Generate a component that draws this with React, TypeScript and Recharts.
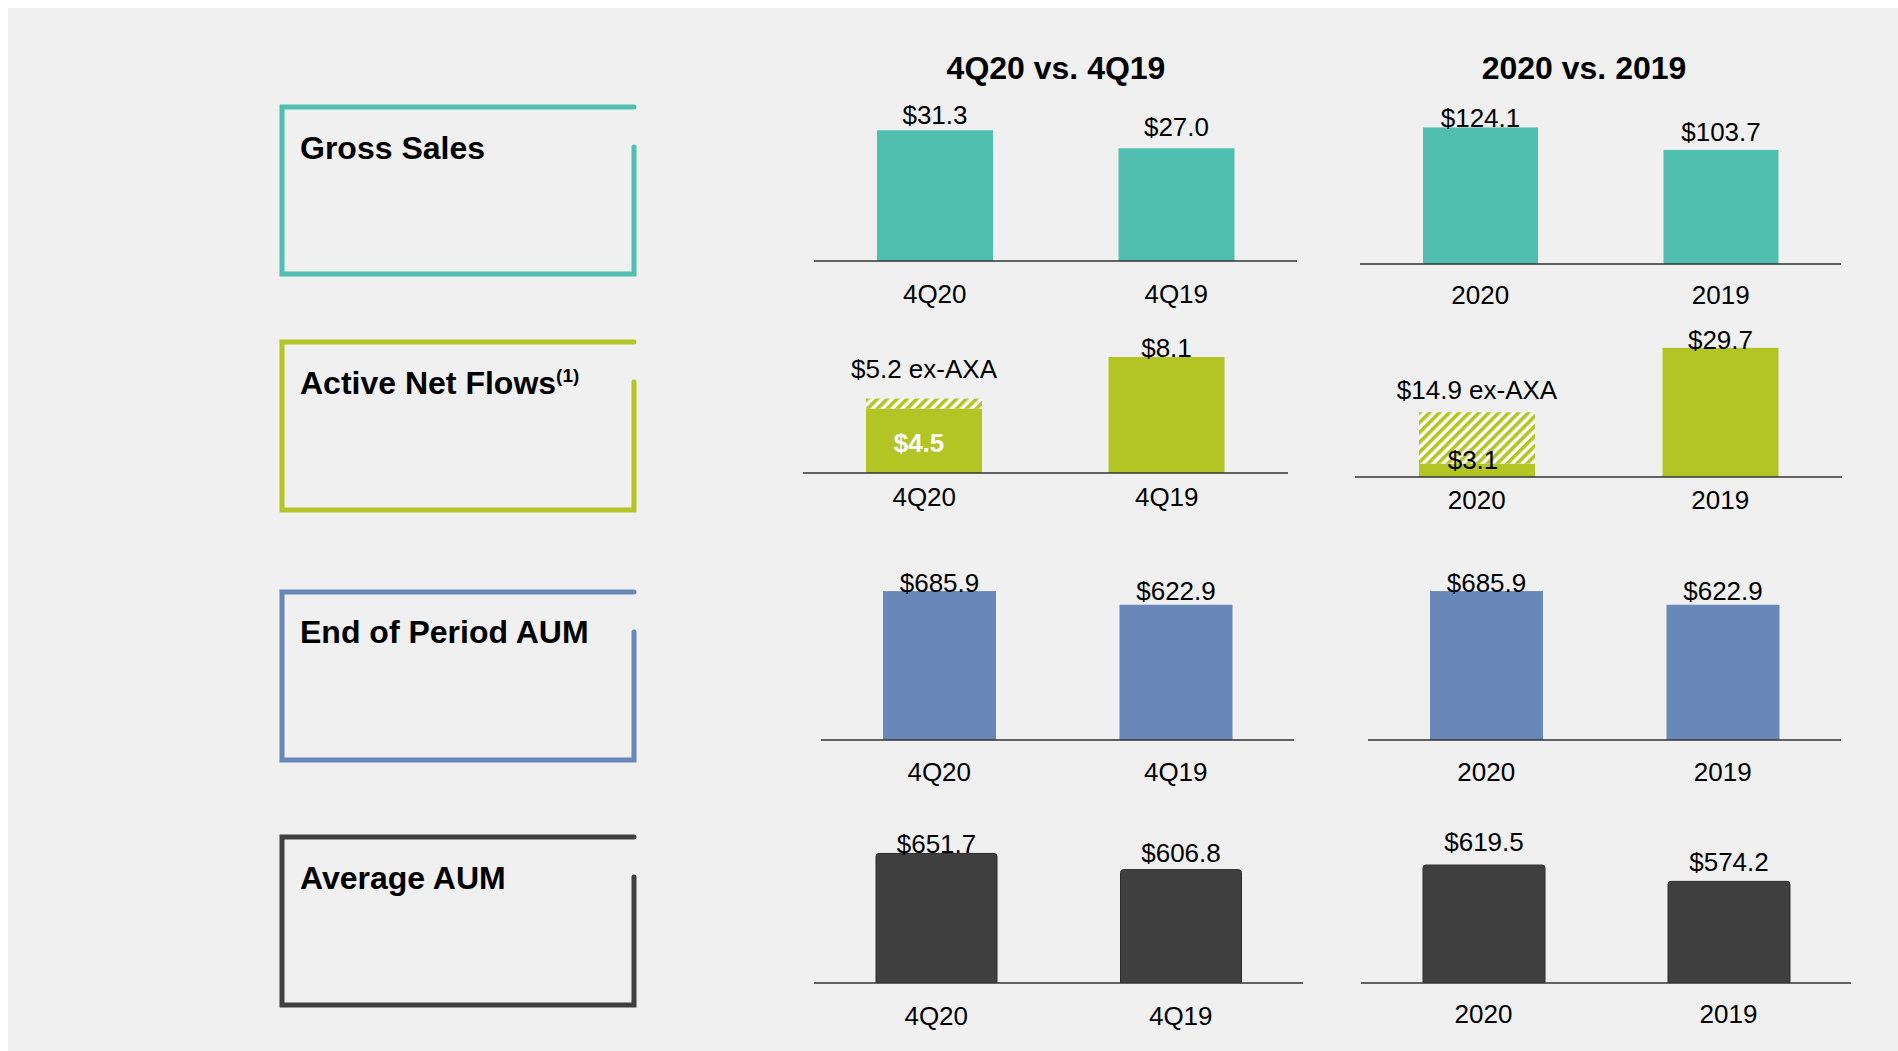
import React from 'react';
import { BarChart, Bar, XAxis, YAxis } from 'recharts';

const FONT = '"Liberation Sans", Arial, Helvetica, sans-serif';

// headers
const columnTitles = ['4Q20 vs. 4Q19', '2020 vs. 2019'];
const rowTitles = ['Gross Sales', 'Active Net Flows', 'End of Period AUM', 'Average AUM'];

// categories
const quarterLabels = ['4Q20', '4Q19'];
const yearLabels = ['2020', '2019'];

// values in $ billions
const grossSalesQtr = [31.3, 27.0];
const grossSalesYr = [124.1, 103.7];
const netFlowsQtr = [4.5, 8.1];
const netFlowsYr = [3.1, 29.7];
const netFlowsExAxaQtr = [5.2, null];
const netFlowsExAxaYr = [14.9, null];
const endAumQtr = [685.9, 622.9];
const endAumYr = [685.9, 622.9];
const avgAumQtr = [651.7, 606.8];
const avgAumYr = [619.5, 574.2];

const COLORS = ['#50bfb0', '#b2c524', '#6988ba', '#3f3f3f'];

const PLOT_H = 170;
const TOP = 60;
const AXIS_H = 60;

const fmt = (v: number) => `$${v.toFixed(1)}`;

interface PanelProps {
  id: string;
  cats: string[];
  values: number[];
  exAxa?: (number | null)[];
  color: string;
  domain: [number, number];
  left: number;
  baseline: number;
  width: number;
  barSize: number;
  gaps: number[];
  tickGap: number;
  rounded?: boolean;
  exGap?: number;
  innerLabel?: 'white' | 'dark';
}

const BarPanel = ({ id, cats, values, exAxa, color, domain, left, baseline, width, barSize, gaps, tickGap, rounded, exGap = 25, innerLabel }: PanelProps) => {
  const data = cats.map((cat, i) => ({
    cat,
    value: values[i],
    extra: exAxa && exAxa[i] != null ? +((exAxa[i] as number) - values[i]).toFixed(1) : 0,
  }));
  const baseY = TOP + PLOT_H;

  const renderBase = (p: any) => {
    const i = cats.indexOf(p.payload?.cat);
    const hasEx = exAxa && exAxa[i] != null;
    return (
      <g>
        <rect
          x={p.x}
          y={p.y}
          width={p.width}
          height={p.height + (rounded ? 2 : 0)}
          rx={rounded ? 3 : 0}
          fill={color}
          stroke={rounded ? '#2e2e2e' : 'none'}
          strokeWidth={1}
        />
        {!hasEx && (
          <text x={p.x + p.width / 2} y={p.y - gaps[i]} dy="0.35em" textAnchor="middle" fontSize={26} fontFamily={FONT} fill="#000">
            {fmt(values[i])}
          </text>
        )}
      </g>
    );
  };

  const renderExtra = (p: any) => {
    const i = cats.indexOf(p.payload?.cat);
    if (!exAxa || exAxa[i] == null) return <g />;
    const pid = `hatch-${id}`;
    const solidTop = p.y + p.height;
    const cx = p.x + p.width / 2;
    return (
      <g>
        <defs>
          <pattern id={pid} width="7" height="7" patternUnits="userSpaceOnUse" patternTransform="rotate(45)">
            <rect width="7" height="7" fill="#ffffff" />
            <rect width="3.6" height="7" fill={color} />
          </pattern>
        </defs>
        <rect x={p.x} y={p.y} width={p.width} height={p.height} fill={`url(#${pid})`} />
        <text x={cx} y={p.y - exGap} dy="0.35em" textAnchor="middle" fontSize={26} fontFamily={FONT} fill="#000">
          {`${fmt(exAxa[i] as number)} ex-AXA`}
        </text>
        {innerLabel === 'white' ? (
          <text x={cx - 5} y={(solidTop + baseY) / 2 + 2} dy="0.35em" textAnchor="middle" fontSize={26} fontWeight="bold" fontFamily={FONT} fill="#fff">
            {fmt(values[i])}
          </text>
        ) : (
          <text x={cx - 4} y={solidTop - 4} dy="0.35em" textAnchor="middle" fontSize={26} fontFamily={FONT} fill="#000">
            {fmt(values[i])}
          </text>
        )}
      </g>
    );
  };

  const renderTick = (p: any) => (
    <text x={p.x} y={p.y + tickGap} dy="0.35em" textAnchor="middle" fontSize={26} fontFamily={FONT} fill="#000">
      {p.payload.value}
    </text>
  );

  return (
    <div style={{ position: 'absolute', left, top: baseline - PLOT_H - TOP }}>
      <BarChart width={width} height={TOP + PLOT_H + AXIS_H} data={data} margin={{ top: TOP, right: 0, left: 0, bottom: 0 }}>
        <XAxis
          dataKey="cat"
          height={AXIS_H}
          interval={0}
          tickLine={false}
          tickSize={0}
          tickMargin={0}
          axisLine={{ stroke: '#333', strokeWidth: 1.3 }}
          tick={renderTick}
        />
        <YAxis hide type="number" domain={domain} allowDataOverflow />
        <Bar dataKey="value" stackId={exAxa ? 's' : undefined} barSize={barSize} shape={renderBase} isAnimationActive={false} />
        {exAxa && (
          <Bar dataKey="extra" stackId="s" barSize={barSize} shape={renderExtra} isAnimationActive={false} />
        )}
      </BarChart>
    </div>
  );
};

// box outlines on the left: [top, bottom, gapEnd, textBaseline]
const boxes = [
  [107, 274, 147, 159],
  [342, 510, 382, 394],
  [592, 760, 632, 643],
  [837, 1005, 877, 889],
];

export default function App() {
  return (
    <div style={{ position: 'absolute', left: 0, top: 0, width: 1898, height: 1051, background: '#fff', overflow: 'hidden' }}>
      <div style={{ position: 'absolute', left: 8, top: 8, width: 1890, height: 1043, background: '#f0f0f0' }} />
      <svg width={1898} height={1051} style={{ position: 'absolute', left: 0, top: 0 }}>
        <text x={1056} y={78.5} textAnchor="middle" fontSize={32} fontWeight="bold" fontFamily={FONT} fill="#000">
          {columnTitles[0]}
        </text>
        <text x={1584} y={78.5} textAnchor="middle" fontSize={32} fontWeight="bold" fontFamily={FONT} fill="#000">
          {columnTitles[1]}
        </text>
        {boxes.map(([t, b, g, tb], i) => (
          <g key={i}>
            <path
              d={`M634,${g} L634,${b} L282,${b} L282,${t} L634,${t}`}
              fill="none"
              stroke={COLORS[i]}
              strokeWidth={5}
              strokeLinecap="round"
              strokeLinejoin="miter"
            />
            <text x={300} y={tb} fontSize={32} fontWeight="bold" fontFamily={FONT} fill="#000">
              {rowTitles[i]}
              {i === 1 && (
                <tspan fontSize={19} dy={-12}>
                  (1)
                </tspan>
              )}
            </text>
          </g>
        ))}
      </svg>

      <BarPanel id="gsq" cats={quarterLabels} values={grossSalesQtr} color={COLORS[0]} domain={[0, 40.7]}
        left={814} baseline={261} width={483} barSize={116} gaps={[15, 21]} tickGap={33} />
      <BarPanel id="gsy" cats={yearLabels} values={grossSalesYr} color={COLORS[0]} domain={[0, 154.5]}
        left={1360} baseline={264} width={481} barSize={115} gaps={[10, 18]} tickGap={31} />

      <BarPanel id="nfq" cats={quarterLabels} values={netFlowsQtr} exAxa={netFlowsExAxaQtr} color={COLORS[1]} domain={[0, 11.87]}
        left={803} baseline={473} width={485} barSize={116} gaps={[9, 9]} exGap={30} tickGap={24} innerLabel="white" />
      <BarPanel id="nfy" cats={yearLabels} values={netFlowsYr} exAxa={netFlowsExAxaYr} color={COLORS[1]} domain={[0, 39.1]}
        left={1355} baseline={477} width={487} barSize={116} gaps={[8, 8]} exGap={22} tickGap={23} innerLabel="dark" />

      <BarPanel id="eaq" cats={quarterLabels} values={endAumQtr} color={COLORS[2]} domain={[0, 783]}
        left={821} baseline={740} width={473} barSize={113} gaps={[8, 14]} tickGap={32} />
      <BarPanel id="eay" cats={yearLabels} values={endAumYr} color={COLORS[2]} domain={[0, 783]}
        left={1368} baseline={740} width={473} barSize={113} gaps={[8, 14]} tickGap={32} />

      <BarPanel id="aaq" cats={quarterLabels} values={avgAumQtr} color={COLORS[3]} domain={[292, 764]}
        left={814} baseline={983} width={489} barSize={121} gaps={[10, 17]} tickGap={33} rounded />
      <BarPanel id="aay" cats={yearLabels} values={avgAumYr} color={COLORS[3]} domain={[292, 764]}
        left={1361} baseline={983} width={490} barSize={122} gaps={[23, 19]} tickGap={31} rounded />
    </div>
  );
}
